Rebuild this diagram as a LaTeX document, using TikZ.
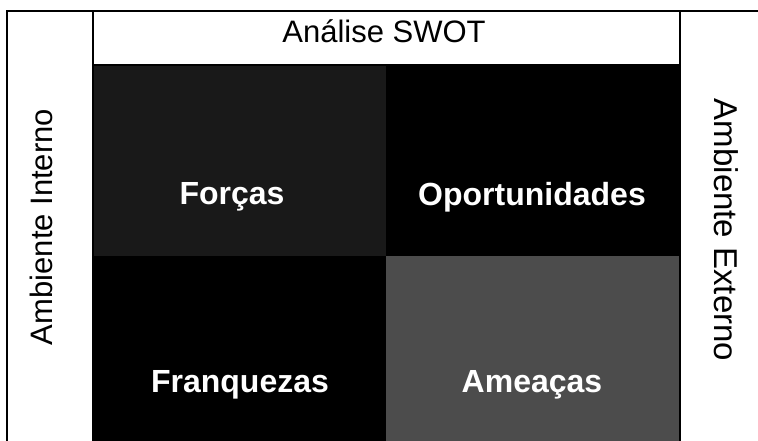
\documentclass[tikz,border=0pt]{standalone}
\usepackage{fontspec}
\setmainfont{Liberation Sans}
\usetikzlibrary{positioning}
\tikzset{
  quadrante/.style={rectangle, draw=none, inner sep=0pt, minimum width=293pt, minimum height=191pt},
  rotulo/.style={text=white, font=\fontsize{32}{38}\selectfont\bfseries},
  ambiente/.style={font=\fontsize{31}{37}\selectfont},
  moldura/.style={line width=1.5pt, black}
}

\begin{document}
\begin{tikzpicture}[x=1pt,y=-1pt]
  \useasboundingbox (0,0) rectangle (758,441);

  % quadrantes
  \node[quadrante, fill=black!90] (forcas) at (239.5,160.5) {};
  \node[quadrante, fill=black, right=0pt of forcas] (oport) {};
  \node[quadrante, fill=black, below=0pt of forcas] (franq) {};
  \node[quadrante, fill=black!70, below=0pt of oport] (ameacas) {};

  % textos
  \node[rotulo] (tforcas) at (232,197) {Forças};
  \node[rotulo] (toport) at (532,197) {Oportunidades};
  \node[rotulo] (tfranq) at (240,385) {Franquezas};
  \node[rotulo] (tameacas) at (532,385) {Ameaças};

  \node[ambiente] (swot) at (384,31) {Análise SWOT};
  \node[ambiente, rotate=90] (interno) at (41,227) {Ambiente Interno};
  \node[ambiente, rotate=-90, font=\fontsize{33}{39}\selectfont] (externo) at (726,230) {Ambiente Externo};

  % moldura
  \draw[moldura] (7,441) -- (7,11) -- (758,11);
  \draw[moldura] (93,11) -- (93,441);
  \draw[moldura] (680,11) -- (680,441);
  \draw[moldura] (93,65) -- (680,65);
\end{tikzpicture}
\end{document}
